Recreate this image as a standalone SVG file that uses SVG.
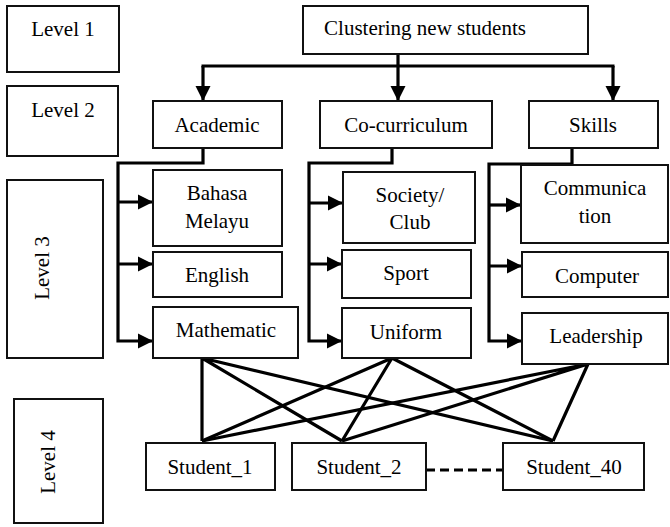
<svg xmlns="http://www.w3.org/2000/svg" width="670" height="527" viewBox="0 0 670 527">
<style>
.box{fill:#fff;stroke:#111;stroke-width:2}
text{font-family:"Liberation Serif","Times New Roman",serif;font-size:21px;fill:#000;text-anchor:middle}
.con{fill:none;stroke:#000;stroke-width:3.2}
.dash{fill:none;stroke:#000;stroke-width:3.2;stroke-dasharray:9 5}
</style>
<defs>
<marker id="arr" markerUnits="userSpaceOnUse" markerWidth="16" markerHeight="16" refX="15" refY="8" orient="auto">
<path d="M0,0.5 L15,8 L0,15.5 z" fill="#000"/>
</marker>
</defs>

<g id="level1"><rect class="box" x="7" y="6" width="112" height="66"/><text x="63" y="36">Level 1</text></g>
<g id="level2"><rect class="box" x="7" y="86" width="111" height="70"/><text x="63" y="117">Level 2</text></g>
<g id="level3"><rect class="box" x="7" y="180" width="96" height="178"/><text transform="translate(49,268) rotate(-90)">Level 3</text></g>
<g id="level4"><rect class="box" x="14" y="399" width="89" height="124"/><text transform="translate(55,462) rotate(-90)">Level 4</text></g>

<g id="connectors">
<path class="con" d="M398,54 V66 M201.5,66 H614.5"/>
<path class="con" d="M203,66 V101" marker-end="url(#arr)"/>
<path class="con" d="M398,66 V101" marker-end="url(#arr)"/>
<path class="con" d="M613,66 V101" marker-end="url(#arr)"/>

<path class="con" d="M203,148 V163 H118 V341 H153" marker-end="url(#arr)"/>
<path class="con" d="M118,202 H153" marker-end="url(#arr)"/>
<path class="con" d="M118,264 H153" marker-end="url(#arr)"/>

<path class="con" d="M392,148 V163 H309 V341 H342" marker-end="url(#arr)"/>
<path class="con" d="M309,203 H343" marker-end="url(#arr)"/>
<path class="con" d="M309,264 H342" marker-end="url(#arr)"/>

<path class="con" d="M572,148 V164 H489 V341 H522" marker-end="url(#arr)"/>
<path class="con" d="M489,205 H521" marker-end="url(#arr)"/>
<path class="con" d="M489,266 H522" marker-end="url(#arr)"/>

<path class="con" d="M202,358 L202,441 M202,358 L342,441 M202,358 L553,441"/>
<path class="con" d="M392,358 L202,441 M392,358 L342,441 M392,358 L553,441"/>
<path class="con" d="M588,364 L202,441 M588,364 L342,441 M588,364 L553,441"/>

<path class="dash" d="M426,470 H503"/>
</g>

<g id="clustering"><rect class="box" x="303" y="6" width="285" height="48"/><text x="425" y="35">Clustering new students</text></g>
<g id="academic"><rect class="box" x="153" y="101" width="129" height="47"/><text x="217" y="132">Academic</text></g>
<g id="cocurriculum"><rect class="box" x="320" y="101" width="172" height="47"/><text x="406" y="132">Co-curriculum</text></g>
<g id="skills"><rect class="box" x="529" y="101" width="129" height="47"/><text x="593" y="132">Skills</text></g>

<g id="bahasa"><rect class="box" x="153" y="170" width="129" height="76"/><text x="217" y="200">Bahasa</text><text x="217" y="228">Melayu</text></g>
<g id="english"><rect class="box" x="153" y="252" width="129" height="45"/><text x="217" y="282">English</text></g>
<g id="mathematic"><rect class="box" x="153" y="307" width="145" height="51"/><text x="226" y="337">Mathematic</text></g>

<g id="society"><rect class="box" x="343" y="172" width="132" height="71"/><text x="410" y="202">Society/</text><text x="410" y="229">Club</text></g>
<g id="sport"><rect class="box" x="342" y="250" width="129" height="48"/><text x="406" y="280">Sport</text></g>
<g id="uniform"><rect class="box" x="342" y="308" width="129" height="50"/><text x="406" y="339">Uniform</text></g>

<g id="communication"><rect class="box" x="521" y="165" width="147" height="78"/><text x="595" y="195">Communica</text><text x="595" y="223">tion</text></g>
<g id="computer"><rect class="box" x="522" y="252" width="146" height="45"/><text x="597" y="283">Computer</text></g>
<g id="leadership"><rect class="box" x="522" y="313" width="146" height="51"/><text x="596" y="343">Leadership</text></g>

<g id="student1"><rect class="box" x="146" y="443" width="129" height="47"/><text x="210" y="474">Student_1</text></g>
<g id="student2"><rect class="box" x="292" y="443" width="134" height="47"/><text x="359" y="474">Student_2</text></g>
<g id="student40"><rect class="box" x="503" y="443" width="141" height="47"/><text x="574" y="474">Student_40</text></g>
</svg>
